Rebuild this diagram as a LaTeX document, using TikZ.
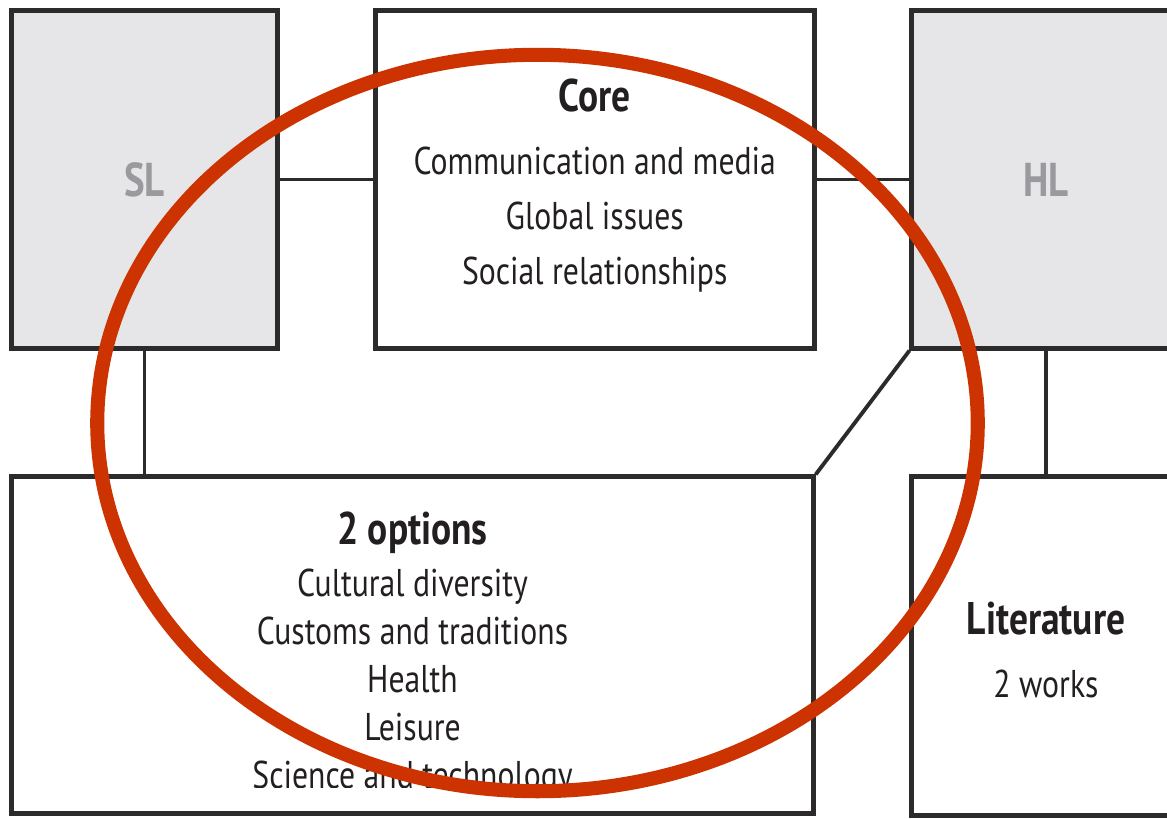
\documentclass[tikz,border=0pt]{standalone}
\usepackage{fontspec}
\setmainfont{PT Sans}[FakeStretch=0.82]
\definecolor{boxline}{HTML}{2D2A2B}
\definecolor{boxfill}{HTML}{E6E6E8}
\definecolor{levelgray}{HTML}{9A999E}
\definecolor{ringred}{HTML}{CC3300}
\definecolor{inkdark}{HTML}{231F20}
\newcommand{\headtxt}[1]{{\fontsize{13}{15}\selectfont\bfseries #1}}

\begin{document}
\begin{tikzpicture}[x=0.01cm,y=-0.01cm,
	box/.style={draw=boxline, line width=1.4pt, inner sep=0pt},
	levelbox/.style={box, fill=boxfill, text=levelgray, font=\fontsize{13.5}{15}\selectfont\bfseries},
	boxtext/.style={align=center, text=inkdark, inner sep=0pt, font=\fontsize{11}{#1}\selectfont},
	link/.style={draw=boxline, line width=1.1pt}]
	\useasboundingbox (0,0) rectangle (1167,818);

	% the two levels and the core
	\node[levelbox, minimum width=2.65cm, minimum height=3.37cm] (sl) at (144.5,179.5) {SL};
	\node[box, minimum width=4.385cm, minimum height=3.37cm] (core) at (594.75,179.5) {};
	\node[boxtext=15.6] (corelist) at (594.75,185.5)
		{\headtxt{Core}\\[2.3pt] Communication and media\\ Global issues\\ Social relationships};
	\node[levelbox, minimum width=2.68cm, minimum height=3.37cm] (hl) at (1046,179.5) {HL};

	% options and literature
	\node[box, minimum width=8.01cm, minimum height=3.36cm] (opts) at (412.5,645) {};
	\node[box, minimum width=2.68cm, minimum height=3.38cm] (lit) at (1046,646) {};
	\node[boxtext=15.6] (litlist) at (1046,650) {\headtxt{Literature}\\[2.3pt] 2 works};
	\begin{scope}
		\clip (opts.north west) rectangle (813,787);
		\node[boxtext=13.6] (optslist) at (412.5,654)
			{\headtxt{2 options}\\[1.4pt] Cultural diversity\\ Customs and traditions\\ Health\\ Leisure\\ Science and technology};
	\end{scope}

	% connectors
	\draw[link] (sl) -- (core);
	\draw[link] (core) -- (hl);
	\draw[link] (sl.south) -- (sl.south |- opts.north);
	\draw[link] (hl.south west) -- (opts.north east);
	\draw[link] (hl.south) -- (lit.north);

	% the ring
	\draw[ringred, line width=4pt] (537.5,423) ellipse [x radius=4.40cm, y radius=3.68cm];
\end{tikzpicture}
\end{document}
